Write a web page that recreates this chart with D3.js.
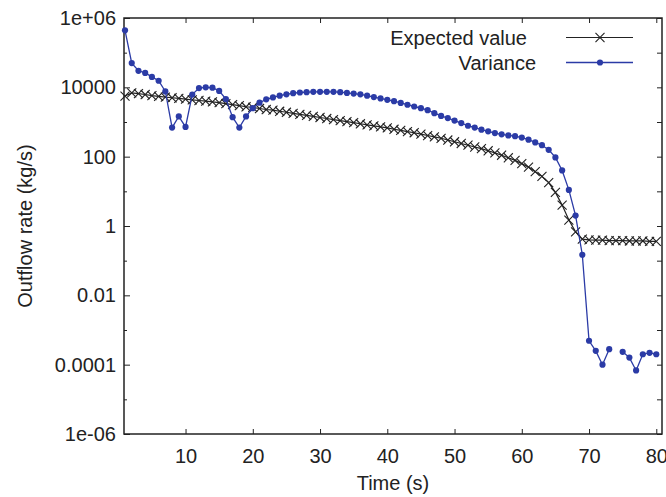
<html>
<head>
<script src="https://d3js.org/d3.v7.min.js"></script>
<style>
body { margin: 0; background: #fff; }
text { font-family: "Liberation Sans", Arial, sans-serif; fill: #222; }
</style>
</head>
<body>
<svg width="666" height="497"></svg>
<script>
// time steps (s)
var times = d3.range(1, 81);

// expected value of outflow rate (kg/s)
var expected = [5600, 6900, 6600, 6200, 5750, 5500, 5250, 5000, 4800, 4570,
  4370, 4170, 3980, 3800, 3630, 3390, 3160, 2950, 2750, 2630,
  2450, 2290, 2190, 2040, 1910, 1780, 1660, 1550, 1450, 1350,
  1260, 1175, 1100, 1020, 955, 890, 830, 776, 724, 676,
  617, 575, 525, 490, 447, 407, 372, 339, 302, 269,
  240, 214, 190, 170, 148, 129, 110, 93, 78, 63,
  50, 37, 27, 17.8, 9.3, 4.0, 1.48, 0.68, 0.42, 0.40,
  0.39, 0.39, 0.38, 0.38, 0.38, 0.37, 0.37, 0.37, 0.36, 0.36];

// variance (null = not shown on log axis)
var variance = [4.4e5, 5.0e4, 3.0e4, 2.6e4, 2.0e4, 1.55e4, 7600, 690, 1450, 720,
  6200, 9500, 10000, 9800, 7900, 4600, 1380, 690, 1450, 2500,
  3600, 4500, 5100, 5750, 6300, 6800, 7100, 7250, 7400, 7400,
  7400, 7400, 7250, 6900, 6600, 6300, 5750, 5250, 4800, 4350,
  4000, 3550, 3150, 2800, 2500, 2200, 1800, 1500, 1300, 1100,
  930, 780, 690, 600, 540, 480, 440, 410, 390, 355,
  310, 257, 214, 158, 95, 40, 11, 2.0, 0.148, 4.9e-4,
  2.5e-4, 1.0e-4, 2.8e-4, null, 2.35e-4, 1.6e-4, 6.8e-5, 2.0e-4, 2.2e-4, 2.0e-4];

var xTicks = [10, 20, 30, 40, 50, 60, 70, 80];
var yTicks = [1e-6, 1e-4, 1e-2, 1, 100, 10000, 1e6];
var yTickLabels = ["1e-06", "0.0001", "0.01", "1", "100", "10000", "1e+06"];
var yMinor = [1e-5, 1e-3, 0.1, 10, 1000, 1e5];

var pLeft = 124, pRight = 662, pTop = 18, pBottom = 434;
var blue = "#2b3ba6";
var fs = 20;

var xs = d3.scaleLinear().domain([0.85, 80.85]).range([pLeft, pRight]);
var ys = d3.scaleLog().domain([1e-6, 1e6]).range([pBottom, pTop]);

var svg = d3.select("svg");

// axes: ticks pointing inward, mirrored
svg.append("g").attr("transform", "translate(0," + pBottom + ")")
  .call(d3.axisBottom(xs).tickValues(xTicks).tickSizeInner(-5).tickSizeOuter(0).tickPadding(15)
    .tickFormat(d3.format("d")))
  .call(function(g) {
    g.select(".domain").remove();
    g.selectAll("line").attr("stroke", "#222");
    g.selectAll("text").attr("font-size", fs).attr("fill", "#222");
  });
svg.append("g").attr("transform", "translate(0," + pTop + ")")
  .call(d3.axisTop(xs).tickValues(xTicks).tickSizeInner(-5).tickSizeOuter(0).tickFormat(""))
  .call(function(g) { g.select(".domain").remove(); g.selectAll("line").attr("stroke", "#222"); });

svg.append("g").attr("transform", "translate(" + pLeft + ",0)")
  .call(d3.axisLeft(ys).tickValues(yTicks).tickSizeInner(-6).tickSizeOuter(0).tickPadding(8)
    .tickFormat(function(d, i) { return yTickLabels[i]; }))
  .call(function(g) {
    g.select(".domain").remove();
    g.selectAll("line").attr("stroke", "#222");
    g.selectAll("text").attr("font-size", fs).attr("fill", "#222");
  });
svg.append("g").attr("transform", "translate(" + pLeft + ",0)")
  .call(d3.axisLeft(ys).tickValues(yMinor).tickSizeInner(-3).tickSizeOuter(0).tickFormat(""))
  .call(function(g) { g.select(".domain").remove(); g.selectAll("line").attr("stroke", "#222"); });
svg.append("g").attr("transform", "translate(" + pRight + ",0)")
  .call(d3.axisRight(ys).tickValues(yTicks.concat(yMinor)).tickSizeInner(-5).tickSizeOuter(0).tickFormat(""))
  .call(function(g) { g.select(".domain").remove(); g.selectAll("line").attr("stroke", "#222"); });

// border
svg.append("rect").attr("x", pLeft).attr("y", pTop)
  .attr("width", pRight - pLeft).attr("height", pBottom - pTop)
  .attr("fill", "none").attr("stroke", "#222").attr("stroke-width", 1.5);

// expected value series
var expData = times.map(function(t, i) { return {t: t, v: expected[i]}; });
var line = d3.line().x(function(d) { return xs(d.t); }).y(function(d) { return ys(d.v); });
svg.append("path").datum(expData)
  .attr("fill", "none").attr("stroke", "#222").attr("stroke-width", 1.2)
  .attr("d", line);
var cross = d3.symbol().type(d3.symbolX).size(55);
svg.append("g").selectAll("path").data(expData).enter().append("path")
  .attr("transform", function(d) { return "translate(" + xs(d.t) + "," + ys(d.v) + ")"; })
  .attr("d", cross).attr("fill", "none").attr("stroke", "#222").attr("stroke-width", 1.1);

// variance series
var varData = times.map(function(t, i) { return {t: t, v: variance[i]}; });
var varLine = d3.line().defined(function(d) { return d.v != null; })
  .x(function(d) { return xs(d.t); }).y(function(d) { return ys(d.v); });
svg.append("path").datum(varData)
  .attr("fill", "none").attr("stroke", blue).attr("stroke-width", 1.3)
  .attr("d", varLine);
svg.append("g").selectAll("circle").data(varData.filter(function(d) { return d.v != null; }))
  .enter().append("circle")
  .attr("cx", function(d) { return xs(d.t); })
  .attr("cy", function(d) { return ys(d.v); })
  .attr("r", 3.1).attr("fill", blue);

// legend
svg.append("text").attr("x", 527).attr("y", 45).attr("text-anchor", "end")
  .attr("font-size", fs).text("Expected value");
svg.append("line").attr("x1", 566).attr("x2", 633).attr("y1", 37.5).attr("y2", 37.5)
  .attr("stroke", "#222").attr("stroke-width", 1.2);
svg.append("path").attr("transform", "translate(600,37.5)").attr("d", cross)
  .attr("fill", "none").attr("stroke", "#222").attr("stroke-width", 1.1);
svg.append("text").attr("x", 536).attr("y", 70).attr("text-anchor", "end")
  .attr("font-size", fs).text("Variance");
svg.append("line").attr("x1", 566).attr("x2", 633).attr("y1", 62.5).attr("y2", 62.5)
  .attr("stroke", blue).attr("stroke-width", 1.3);
svg.append("circle").attr("cx", 600).attr("cy", 62.5).attr("r", 3.1).attr("fill", blue);

// axis titles
svg.append("text").attr("x", (pLeft + pRight) / 2).attr("y", 490)
  .attr("text-anchor", "middle").attr("font-size", fs).text("Time (s)");
svg.append("text").attr("transform", "translate(32," + ((pTop + pBottom) / 2) + ") rotate(-90)")
  .attr("text-anchor", "middle").attr("font-size", fs).text("Outflow rate (kg/s)");
</script>
</body>
</html>
